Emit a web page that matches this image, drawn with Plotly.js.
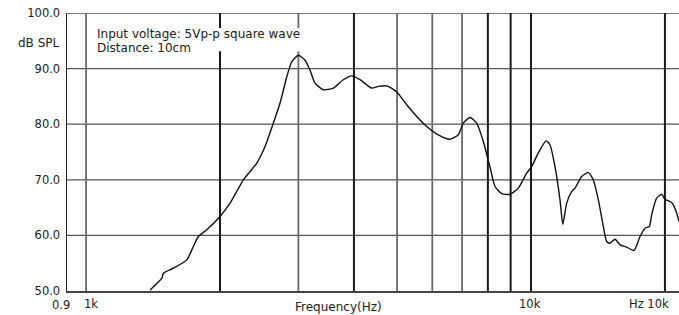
<!DOCTYPE html>
<html><head><meta charset="utf-8">
<script src="https://cdn.plot.ly/plotly-3.0.1.min.js"></script>
<style>html,body{margin:0;padding:0;background:#fff}</style>
</head><body><div id="chart" style="width:679px;height:315px"></div>
<script>
// ---- data ----
const freqHz = [1393,1480,1492,1571,1684,1742,1788,1867,2000,2107,2257,2419,2525,2636,2729,2825,2899,3000,3106,3187,3270,3414,3595,3786,3955,4128,4385,4539,4740,4992,5256,5536,5830,6190,6577,6865,7045,7293,7551,7813,8089,8301,8594,8971,9365,9779,10040,10380,10810,11030,11320,11620,11790,12030,12350,12560,13000,13450,13800,14170,14540,14800,15050,15450,15850,16410,17040,17580,18040,18450,18670,19160,19670,20000,20710,21260,21510];
const splDb  = [50.2,52.3,53.2,54.1,55.6,58.0,59.8,61.0,63.4,65.8,70.0,73.0,76.0,80.2,83.8,88.5,91.2,92.4,91.5,89.7,87.4,86.2,86.5,88.0,88.7,88.0,86.5,86.8,86.9,85.8,83.5,81.4,79.6,78.1,77.3,78.1,80.2,81.2,80.2,76.9,72.3,68.8,67.5,67.4,68.5,71.2,72.4,74.8,77.0,76.3,72.4,66.4,62.0,65.8,67.9,68.5,70.6,71.3,70.0,66.4,61.6,58.9,58.6,59.3,58.3,57.9,57.3,59.8,61.3,61.6,63.7,66.7,67.4,66.5,65.9,64.0,62.5];
const yTickVals = [50,60,70,80,90,100];
const yTickText = ["50.0","60.0","70.0","80.0","90.0","100.0"];
const gridFreqs = [1000,2000,3000,4000,5000,6000,7000,8000,9000,10000,20000];
const darkGridFreqs = [2000,4000,8000,9000,10000,20000];
const gridDb = [60,70,80,90];
const xLabelFreqs = [900,1000,10000,20000];
const xLabelText = ["0.9","1k","10k","Hz 10k"];
const yUnitText = "dB SPL";
const xTitleText = "Frequency(Hz)";
const noteLines = ["Input voltage: 5Vp-p square wave","Distance: 10cm"];
const xRangeHz = [906, 21510];
const yRange = [50, 100];

// ---- build chart ----
const FONT = "DejaVu Sans, Arial, sans-serif";
const lg = v => Math.log10(v);
const fx = f => (lg(f) - lg(xRangeHz[0])) / (lg(xRangeHz[1]) - lg(xRangeHz[0]));
const shapes = [];
gridDb.forEach(v => shapes.push({type:'line', layer:'below', xref:'paper', yref:'y', x0:0, x1:1, y0:v, y1:v, line:{color:'#555', width:1.2}}));
shapes.push({type:'line', layer:'below', xref:'paper', yref:'y', x0:0, x1:1, y0:yRange[1], y1:yRange[1], line:{color:'#777', width:2}});
gridFreqs.forEach(f => {
  const dark = darkGridFreqs.includes(f);
  shapes.push({type:'line', layer:'below', xref:'paper', yref:'paper', x0:fx(f), x1:fx(f), y0:0, y1:1,
    line:{color: dark ? '#1a1a1a' : '#6a6a6a', width: dark ? 2 : 1.8}});
});
// white box behind the note text (gridlines are hidden behind it in the reference)
shapes.push({type:'rect', layer:'below', xref:'paper', yref:'paper', x0:0.0441, x1:0.433, y0:0.862, y1:0.946,
  fillcolor:'#fff', line:{width:0}});

const xShift = [-5, 5, -1, -16];
const xLabY = [-0.051, -0.045, -0.045, -0.045];
const annotations = [];
xLabelFreqs.forEach((f, i) => annotations.push({xref:'paper', yref:'paper', x:fx(f), y:xLabY[i], xshift:xShift[i],
  text:xLabelText[i], showarrow:false, xanchor:'center', yanchor:'middle', font:{family:FONT, size:11.5, color:'#222'}}));
annotations.push({xref:'paper', yref:'paper', x:0.443, y:-0.058, text:xTitleText, showarrow:false,
  xanchor:'center', yanchor:'middle', font:{family:FONT, size:12, color:'#222'}});
annotations.push({xref:'paper', yref:'paper', x:-0.008, y:0.892, text:yUnitText, showarrow:false,
  xanchor:'right', yanchor:'middle', font:{family:FONT, size:12, color:'#222'}});
annotations.push({xref:'paper', yref:'paper', x:0.046, y:0.9245, text:noteLines[0], showarrow:false,
  xanchor:'left', yanchor:'middle', font:{family:FONT, size:12, color:'#222'}});
annotations.push({xref:'paper', yref:'paper', x:0.046, y:0.874, text:noteLines[1], showarrow:false,
  xanchor:'left', yanchor:'middle', font:{family:FONT, size:12, color:'#222'}});

const trace = {x:freqHz, y:splDb, type:'scatter', mode:'lines',
  line:{color:'#111', width:1.4, shape:'spline', smoothing:0.6}, hoverinfo:'skip'};

const layout = {
  width:679, height:315, margin:{l:67, r:0, t:13, b:24},
  paper_bgcolor:'#fff', plot_bgcolor:'#fff', showlegend:false,
  xaxis:{type:'log', range:[lg(xRangeHz[0]), lg(xRangeHz[1])], showgrid:false, zeroline:false,
    showticklabels:false, ticks:'', showline:true, linecolor:'#444', linewidth:1.5},
  yaxis:{range:yRange, tickvals:yTickVals, ticktext:yTickText, showgrid:false, zeroline:false,
    ticks:'', showline:true, linecolor:'#222', linewidth:1.5, ticklabelstandoff:3,
    tickfont:{family:FONT, size:11.5, color:'#222'}},
  shapes:shapes, annotations:annotations
};
Plotly.newPlot('chart', [trace], layout, {staticPlot:true, displayModeBar:false});
</script></body></html>
